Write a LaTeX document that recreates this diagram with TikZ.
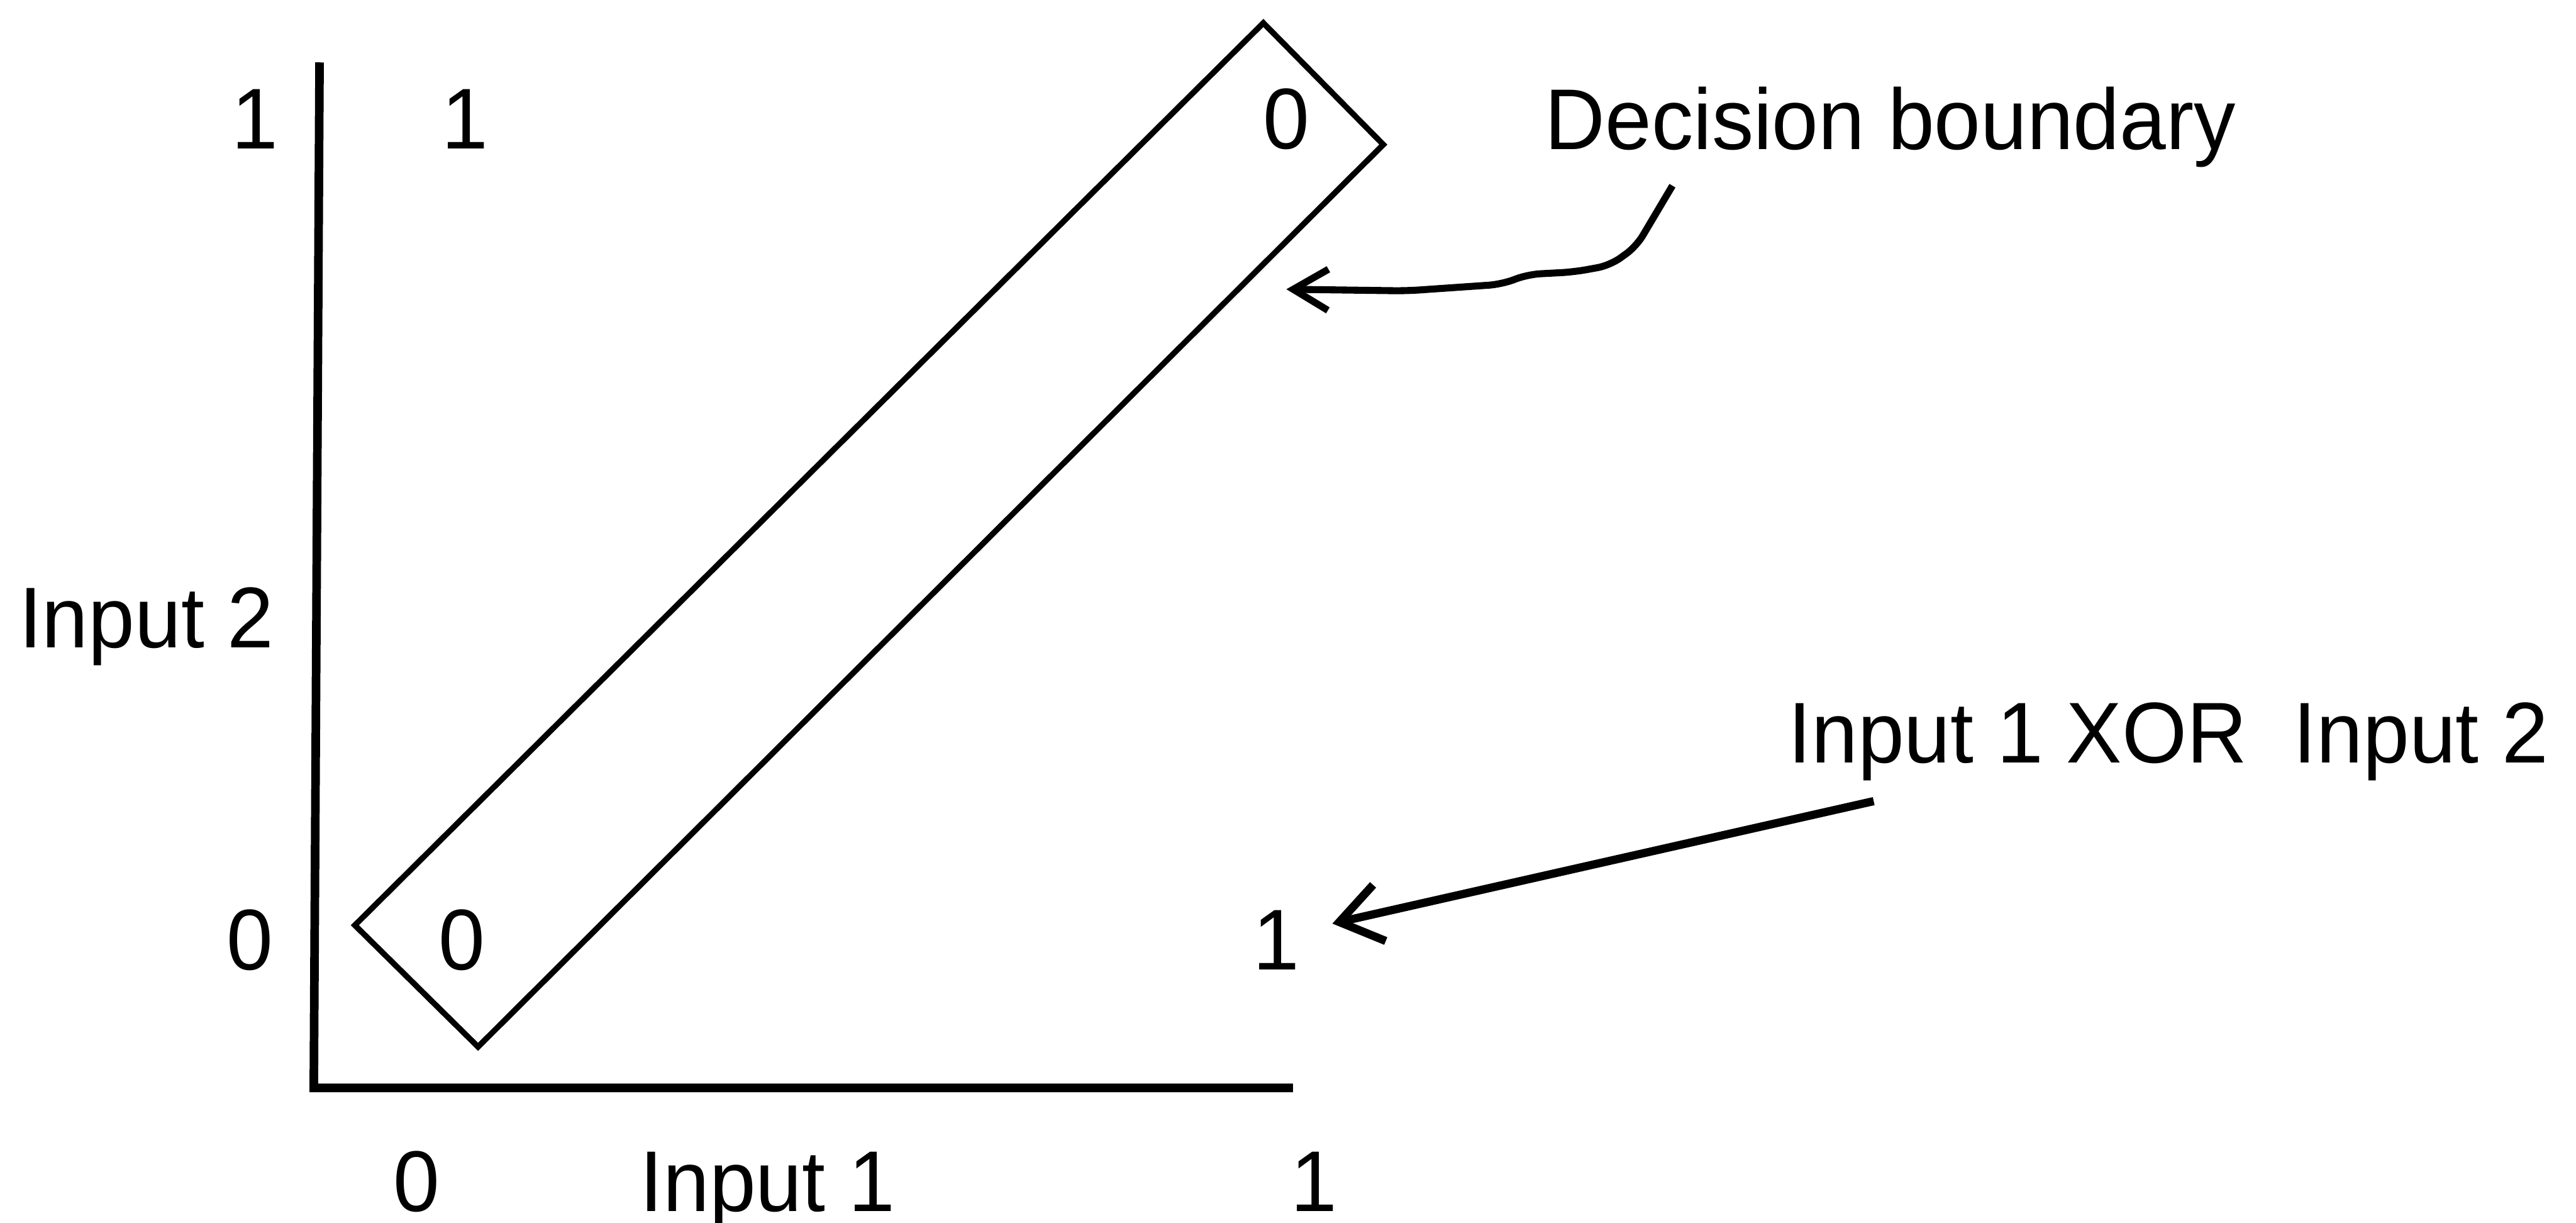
\documentclass[tikz,border=0pt]{standalone}
\usepackage{fontspec}
\setmainfont[FakeStretch=0.967]{Liberation Sans}
\usetikzlibrary{arrows.meta}
\begin{document}
\begin{tikzpicture}[x=0.4pt,y=-0.4pt,
  lbl/.style={inner sep=0pt, anchor=base, font=\fontsize{21}{25}\selectfont},
  lblw/.style={lbl, anchor=base west},
  axisline/.style={line width=2.1pt, line join=miter},
  boundary/.style={line width=1.4pt, line join=miter},
  pointer/.style={line width=1.7pt, line join=round, rounded corners=3pt, -{Straight Barb[length=8.5pt,width=10pt,line width=1.7pt]}},
  pointerB/.style={line width=2pt, -{Straight Barb[length=10pt,width=14pt,line width=2pt]}}
]
\useasboundingbox (0,0) rectangle (1568,744);
% axes
\coordinate (ytop) at (194.5,38);
\coordinate (orig) at (191,662);
\coordinate (xend) at (787,662);
\draw[axisline] (ytop) -- (orig) -- (xend);
% decision boundary rectangle
\coordinate (rT) at (769,14);
\coordinate (rR) at (842,88);
\coordinate (rB) at (291,637);
\coordinate (rL) at (216,563);
\draw[boundary] (rT) -- (rR) -- (rB) -- (rL) -- cycle;
% labels
\node[lbl] (y1) at (155,90.5) {1};
\node[lbl] (p01) at (283,90.5) {1};
\node[lbl] (p11) at (783,90.5) {0};
\node[lblw] (dec) at (940,91) {Decision boundary};
\node[lblw] (in2) at (11,394) {Input 2};
\node[lbl] (y0) at (152,590) {0};
\node[lbl] (p00) at (281,590) {0};
\node[lbl] (p10) at (777,590) {1};
\node[lblw] (xor) at (1088,464) {Input 1 XOR\ \ Input 2};
\node[lbl] (x0) at (253.5,737) {0};
\node[lblw] (in1) at (389,737) {Input 1};
\node[lbl] (x1) at (800,737) {1};
% pointers
\coordinate (decstart) at (1018,113);
\coordinate (dectip) at (783,176);
\draw[pointer] (decstart) -- (996,150) -- (980,161.5) -- (958,165.5)
  -- (930,167) -- (914,173) -- (856,177) -- (dectip);
\coordinate (xorstart) at (1140.5,487.5);
\coordinate (xortip) at (811,562);
\draw[pointerB] (xorstart) -- (xortip);
\end{tikzpicture}
\end{document}
